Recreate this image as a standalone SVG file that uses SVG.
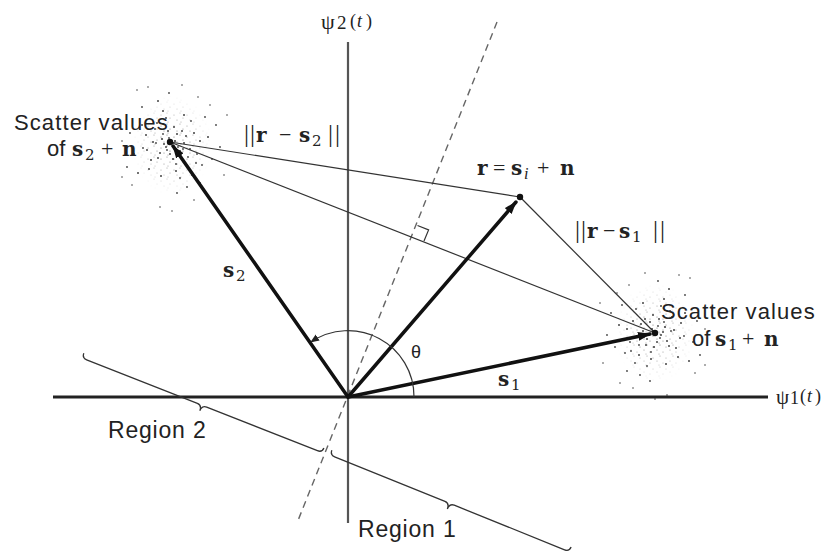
<svg xmlns="http://www.w3.org/2000/svg" width="828" height="554" viewBox="0 0 828 554">
<style>
.axis{fill:none}
.vec{stroke:#111;stroke-width:3.5;fill:none;stroke-linecap:round}
.thin{stroke:#333;stroke-width:1.2;fill:none}
.dash{stroke:#666;stroke-width:1.4;stroke-dasharray:7,5;fill:none}
.brace{stroke:#333;stroke-width:1.3;fill:none}
.sans{font-family:"Liberation Sans",Arial,sans-serif;fill:#222}
.ser{font-family:"Liberation Serif","Times New Roman",serif;fill:#222}
.bv{font-family:"DejaVu Serif",serif;font-weight:bold;fill:#222;font-size:20px}
.sub{font-family:"DejaVu Serif",serif;fill:#222;font-size:15px}
.dot{fill:#111}
.cl circle{fill:#444}
</style>
<defs>
<marker id="ah" markerUnits="userSpaceOnUse" markerWidth="14" markerHeight="10" refX="12" refY="5" orient="auto">
<path d="M0,0.5 L13,5 L0,9.5 Z" fill="#111"/>
</marker>
<marker id="ahs" markerUnits="userSpaceOnUse" markerWidth="10" markerHeight="8" refX="8" refY="4" orient="auto">
<path d="M0,0.5 L9,4 L0,7.5 Z" fill="#222"/>
</marker>
<pattern id="haze" patternUnits="userSpaceOnUse" width="13" height="11">
<g fill="#666">
<circle cx="2" cy="3" r="0.6"/><circle cx="8" cy="1" r="0.55"/><circle cx="11" cy="6" r="0.6"/><circle cx="5" cy="8" r="0.55"/><circle cx="9" cy="10" r="0.5"/>
</g>
</pattern>
<radialGradient id="fade">
<stop offset="0" stop-color="#fff"/>
<stop offset="0.5" stop-color="#aaa"/>
<stop offset="1" stop-color="#000"/>
</radialGradient>
<mask id="hm" maskUnits="userSpaceOnUse" x="-45" y="-55" width="90" height="110">
<ellipse cx="0" cy="0" rx="40" ry="50" fill="url(#fade)"/>
</mask>
<g id="cloud" class="cl">
<ellipse cx="0" cy="0" rx="40" ry="50" fill="url(#haze)" mask="url(#hm)"/>
<circle cx="3" cy="-4" r="1.1"/><circle cx="-6" cy="2" r="1"/><circle cx="8" cy="6" r="1.1"/><circle cx="-2" cy="9" r="1"/><circle cx="5" cy="-11" r="1"/><circle cx="-10" cy="-6" r="1.1"/><circle cx="12" cy="-2" r="1"/><circle cx="-4" cy="-14" r="1"/><circle cx="1" cy="14" r="1.1"/><circle cx="-12" cy="8" r="1"/><circle cx="9" cy="12" r="1"/><circle cx="14" cy="-9" r="1"/><circle cx="-8" cy="-1" r="1"/><circle cx="6" cy="2" r="0.9"/><circle cx="-3" cy="-7" r="0.9"/><circle cx="10" cy="-14" r="1"/><circle cx="-14" cy="13" r="1"/><circle cx="2" cy="-18" r="1"/>
<circle cx="-5" cy="5" r="0.9"/><circle cx="11" cy="4" r="0.9"/><circle cx="-9" cy="-11" r="0.9"/><circle cx="4" cy="19" r="0.9"/><circle cx="-16" cy="-2" r="0.9"/><circle cx="16" cy="12" r="0.9"/>
<circle cx="18" cy="4" r="1"/><circle cx="-19" cy="-3" r="1"/><circle cx="22" cy="-12" r="1"/><circle cx="-21" cy="15" r="1"/><circle cx="16" cy="22" r="1"/><circle cx="-15" cy="-22" r="1"/><circle cx="25" cy="9" r="0.9"/><circle cx="-26" cy="-10" r="1"/><circle cx="4" cy="26" r="1"/><circle cx="-6" cy="-27" r="1"/><circle cx="19" cy="-24" r="0.9"/><circle cx="-23" cy="24" r="1"/><circle cx="28" cy="-4" r="1"/><circle cx="-29" cy="3" r="0.9"/><circle cx="12" cy="-30" r="1"/><circle cx="-11" cy="31" r="1"/><circle cx="24" cy="18" r="0.9"/><circle cx="-17" cy="-16" r="1"/><circle cx="30" cy="20" r="0.9"/><circle cx="-30" cy="-20" r="1"/><circle cx="8" cy="33" r="0.9"/><circle cx="-9" cy="-34" r="1"/><circle cx="20" cy="30" r="0.9"/><circle cx="-25" cy="5" r="1"/>
<circle cx="36" cy="-8" r="1"/><circle cx="-38" cy="9" r="0.9"/><circle cx="33" cy="-28" r="0.9"/><circle cx="-34" cy="28" r="1"/><circle cx="15" cy="42" r="0.9"/><circle cx="-14" cy="-44" r="1"/><circle cx="40" cy="14" r="0.9"/><circle cx="-42" cy="-12" r="0.9"/><circle cx="28" cy="38" r="0.9"/><circle cx="-30" cy="-38" r="0.9"/><circle cx="44" cy="-20" r="0.9"/><circle cx="-45" cy="22" r="0.9"/><circle cx="5" cy="48" r="0.9"/><circle cx="-3" cy="-52" r="0.9"/><circle cx="38" cy="-40" r="0.8"/><circle cx="-40" cy="40" r="0.8"/><circle cx="48" cy="2" r="0.9"/><circle cx="-50" cy="-4" r="0.8"/><circle cx="22" cy="55" r="0.8"/><circle cx="-24" cy="-58" r="0.8"/><circle cx="52" cy="30" r="0.8"/><circle cx="-50" cy="32" r="0.8"/><circle cx="10" cy="-60" r="0.8"/><circle cx="-12" cy="62" r="0.8"/><circle cx="35" cy="50" r="0.8"/><circle cx="-35" cy="-55" r="0.8"/><circle cx="55" cy="-30" r="0.8"/><circle cx="-56" cy="-26" r="0.8"/><circle cx="0" cy="66" r="0.8"/><circle cx="26" cy="-48" r="0.8"/>
</g>
</defs>
<rect width="828" height="554" fill="#fff"/>

<g id="scatter2"><use href="#cloud" transform="translate(172,145)"/></g>
<g id="scatter1"><use href="#cloud" transform="translate(655,333) scale(-1,1)"/></g>

<g id="axes">
<line class="axis" x1="348" y1="42" x2="348" y2="523" stroke-width="2.2" stroke="#555"/>
<line class="axis" x1="53" y1="397" x2="768" y2="397" stroke-width="3" stroke="#222"/>
<text class="ser" y="29" font-size="22"><tspan x="321">ψ</tspan><tspan x="337" font-size="19">2</tspan><tspan y="27" font-size="18"><tspan x="350">(</tspan><tspan x="357" font-style="italic">t</tspan><tspan x="366">)</tspan></tspan></text>
<text class="ser" y="404" font-size="21"><tspan x="776">ψ</tspan><tspan x="790" font-size="18">1</tspan><tspan y="402" font-size="18"><tspan x="800">(</tspan><tspan x="807" font-style="italic">t</tspan><tspan x="815">)</tspan></tspan></text>
</g>

<g id="connectors">
<line class="dash" x1="497" y1="22" x2="297" y2="523"/>
<line class="thin" x1="170" y1="142" x2="655" y2="333"/>
<line class="thin" x1="170" y1="142" x2="520" y2="197"/>
<line class="thin" x1="520" y1="197" x2="655" y2="333"/>
<path class="thin" d="M417.5,225.5 L428.6,229.9 L424,241"/>
<line class="vec" x1="348" y1="397" x2="173" y2="146" marker-end="url(#ah)"/>
<line class="vec" x1="348" y1="397" x2="516" y2="202" marker-end="url(#ah)"/>
<line class="vec" x1="348" y1="397" x2="650" y2="334" marker-end="url(#ah)"/>
<path class="thin" d="M414,397 A66,66 0 0 0 311,342" marker-end="url(#ahs)"/>
</g>

<g id="points">
<circle class="dot" cx="170" cy="142" r="3.2"/>
<circle class="dot" cx="520" cy="197" r="3.2"/>
<circle class="dot" cx="655" cy="333" r="3.2"/>
</g>

<g id="labels">
<text class="sans" x="14" y="130" font-size="22" letter-spacing="1.1">Scatter values</text>
<text y="156" font-size="22"><tspan class="sans" x="47">of</tspan><tspan class="bv" x="72">s</tspan><tspan class="sub" x="85" dy="4">2</tspan><tspan class="ser" x="101" dy="-4">+</tspan><tspan class="bv" x="122">n</tspan></text>

<text y="142" font-size="22"><tspan class="ser" x="244" font-size="25">|</tspan><tspan class="ser" x="250" font-size="25">|</tspan><tspan class="bv" x="256">r</tspan><tspan class="ser" x="279">−</tspan><tspan class="bv" x="299">s</tspan><tspan class="sub" x="312" dy="4">2</tspan><tspan class="ser" x="328" dy="-4" font-size="25">|</tspan><tspan class="ser" x="335" font-size="25">|</tspan></text>

<text y="175" font-size="22"><tspan class="bv" x="477">r</tspan><tspan class="ser" x="493">=</tspan><tspan class="bv" x="511">s</tspan><tspan class="ser" x="524" dy="4" font-size="16" font-style="italic">i</tspan><tspan class="ser" x="537" dy="-4">+</tspan><tspan class="bv" x="560">n</tspan></text>

<text y="238" font-size="22"><tspan class="ser" x="575" font-size="25">|</tspan><tspan class="ser" x="581" font-size="25">|</tspan><tspan class="bv" x="587">r</tspan><tspan class="ser" x="603">−</tspan><tspan class="bv" x="619">s</tspan><tspan class="sub" x="632" dy="4">1</tspan><tspan class="ser" x="653" dy="-4" font-size="25">|</tspan><tspan class="ser" x="660" font-size="25">|</tspan></text>

<text class="sans" x="661" y="319" font-size="22" letter-spacing="1.1">Scatter values</text>
<text y="346" font-size="22"><tspan class="sans" x="692">of</tspan><tspan class="bv" x="715">s</tspan><tspan class="sub" x="728" dy="4">1</tspan><tspan class="ser" x="742" dy="-4">+</tspan><tspan class="bv" x="764">n</tspan></text>

<text y="277" font-size="22"><tspan class="bv" x="223">s</tspan><tspan class="sub" x="236" dy="4">2</tspan></text>
<text y="386" font-size="22"><tspan class="bv" x="498">s</tspan><tspan class="sub" x="511" dy="4">1</tspan></text>
<text class="sans" x="411" y="358" font-size="18">θ</text>
</g>

<g id="region2">
<path class="brace" transform="translate(82,358) rotate(21.5)" d="M0,-5 Q0,0 5,0 L124,0 Q129,0 129,6 Q129,0 134,0 L253,0 Q258,0 258,-5"/>
<text class="sans" x="108" y="438" font-size="23" letter-spacing="0.8">Region 2</text>
</g>
<g id="region1">
<path class="brace" transform="translate(330,455) rotate(22)" d="M0,-5 Q0,0 5,0 L124,0 Q129,0 129,6 Q129,0 134,0 L253,0 Q258,0 258,-5"/>
<text class="sans" x="358" y="537" font-size="23" letter-spacing="0.8">Region 1</text>
</g>
</svg>
